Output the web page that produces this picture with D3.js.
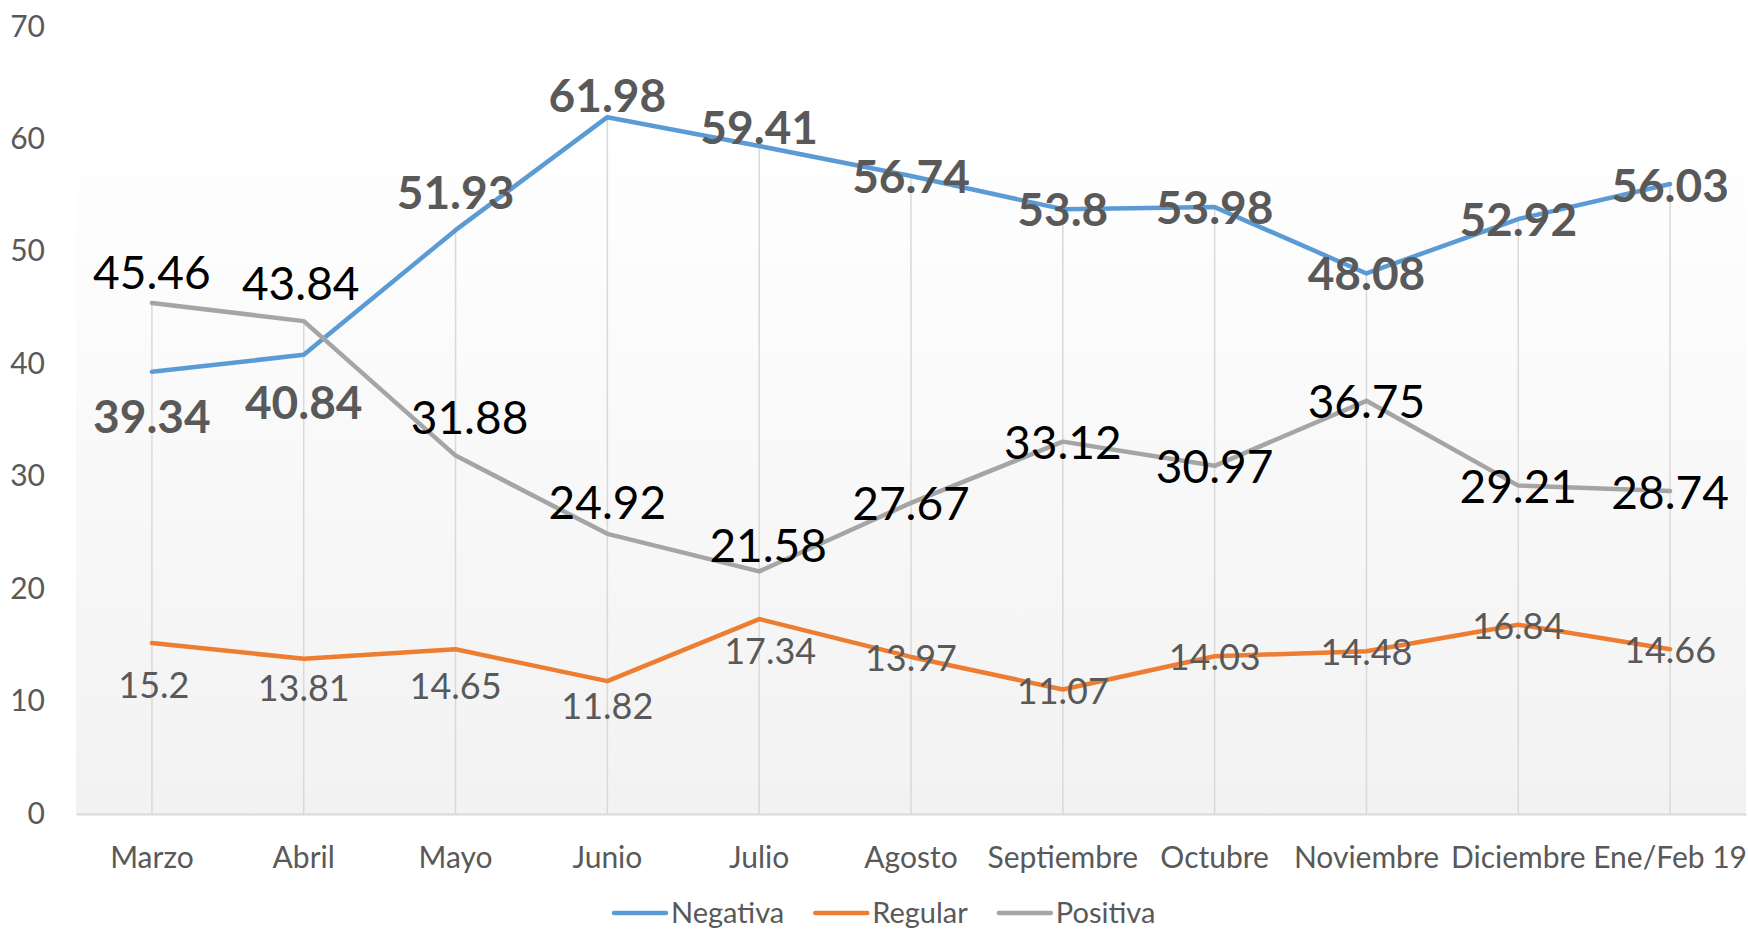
<!DOCTYPE html>
<html>
<head>
<meta charset="utf-8">
<script src="https://d3js.org/d3.v7.min.js"></script>
<style>
	html, body { margin: 0; padding: 0; background: #fff; }
	svg { display: block; font-family: Lato, "Open Sans", sans-serif; }
	.axis text { fill: #595959; font-size: 30px; font-family: Lato, "Open Sans", sans-serif; }
	.axis .domain { stroke: #d9d9d9; stroke-width: 2; }
	.legend text { fill: #595959; font-size: 29px; }
</style>
</head>
<body>
<svg id="chart" width="1748" height="932"></svg>
<script>
var months = ['Marzo', 'Abril', 'Mayo', 'Junio', 'Julio', 'Agosto', 'Septiembre', 'Octubre', 'Noviembre', 'Diciembre', 'Ene/Feb 19'];
var negativa = [39.34, 40.84, 51.93, 61.98, 59.41, 56.74, 53.8, 53.98, 48.08, 52.92, 56.03];
var regular = [15.2, 13.81, 14.65, 11.82, 17.34, 13.97, 11.07, 14.03, 14.48, 16.84, 14.66];
var positiva = [45.46, 43.84, 31.88, 24.92, 21.58, 27.67, 33.12, 30.97, 36.75, 29.21, 28.74];
var yTicks = [0, 10, 20, 30, 40, 50, 60, 70];

// label nudges (px, relative to the point; dy is the text baseline)
var negDy = [61, 64, -21, -5, -2, 17, 17, 17, 17, 17, 18];
var posDy = [-14, -21, -22, -15, -9, 17, 17, 17, 17, 17, 18];
var posDx = [0, -3, 14, 0, 9, 0, 0, 0, 0, 0, 0];
var regDy = [55, 42, 50, 38, 45, 14, 14, 14, 14, 14, 14];
var regDx = [2, 0, 0, 0, 11, 0, 0, 0, 0, 0, 0];

var svg = d3.select('#chart'),
	plot = { left: 76, right: 1746, top: 27, bottom: 814 };

var x = d3.scaleBand()
	.domain(months)
	.range([plot.left, plot.right])
	.padding(0);

var y = d3.scaleLinear()
	.domain([0, 70])
	.range([plot.bottom, plot.top]);

function cx(d, i) { return x(months[i]) + x.bandwidth() / 2; }

// plot background
var grad = svg.append('defs').append('linearGradient')
	.attr('id', 'bg')
	.attr('x1', 0).attr('y1', 0).attr('x2', 0).attr('y2', 1);
grad.append('stop').attr('offset', '0%').attr('stop-color', '#ffffff');
grad.append('stop').attr('offset', '12%').attr('stop-color', '#ffffff');
grad.append('stop').attr('offset', '100%').attr('stop-color', '#f2f2f2');

svg.append('rect')
	.attr('x', plot.left)
	.attr('y', plot.top)
	.attr('width', plot.right - plot.left)
	.attr('height', plot.bottom - plot.top)
	.attr('fill', 'url(#bg)');

// drop lines from the highest point to the axis
svg.append('g')
	.selectAll('line')
	.data(months)
	.enter().append('line')
	.attr('x1', cx).attr('x2', cx)
	.attr('y1', function(d, i) { return y(Math.max(negativa[i], regular[i], positiva[i])); })
	.attr('y2', y(0))
	.attr('stroke', '#d9d9d9')
	.attr('stroke-width', 1.5);

// axes
svg.append('g')
	.attr('class', 'axis')
	.attr('transform', 'translate(0,' + plot.bottom + ')')
	.call(d3.axisBottom(x).tickSize(0).tickSizeOuter(0).tickPadding(33))
	.selectAll('text').attr('dy', '0.71em');

var yAxis = svg.append('g')
	.attr('class', 'axis')
	.attr('transform', 'translate(45,0)')
	.call(d3.axisLeft(y).tickValues(yTicks).tickSize(0).tickPadding(0));
yAxis.select('.domain').remove();
yAxis.selectAll('text').attr('dy', '0.30em');

// series
var series = [
	{ name: 'Negativa', values: negativa, color: '#5b9bd5', dx: null, dy: negDy, fill: '#595959', size: 46, weight: 'bold' },
	{ name: 'Regular', values: regular, color: '#ed7d31', dx: regDx, dy: regDy, fill: '#595959', size: 36, weight: 'normal' },
	{ name: 'Positiva', values: positiva, color: '#a5a5a5', dx: posDx, dy: posDy, fill: '#000000', size: 46, weight: 'normal' }
];

var line = d3.line()
	.x(cx)
	.y(function(d) { return y(d); });

series.forEach(function(s) {
	svg.append('path')
		.datum(s.values)
		.attr('d', line)
		.attr('fill', 'none')
		.attr('stroke', s.color)
		.attr('stroke-width', 4.5)
		.attr('stroke-linejoin', 'round')
		.attr('stroke-linecap', 'round');
});

series.forEach(function(s) {
	svg.append('g')
		.selectAll('text')
		.data(s.values)
		.enter().append('text')
		.attr('x', function(d, i) { return cx(d, i) + (s.dx ? s.dx[i] : 0); })
		.attr('y', function(d, i) { return y(d) + s.dy[i]; })
		.attr('text-anchor', 'middle')
		.attr('fill', s.fill)
		.attr('font-size', s.size)
		.attr('font-weight', s.weight)
		.text(function(d) { return d; });
});

// legend
var legend = svg.append('g').attr('class', 'legend'),
	lx = 614,
	ly = 913;

series.forEach(function(s) {
	legend.append('line')
		.attr('x1', lx).attr('x2', lx + 52)
		.attr('y1', ly).attr('y2', ly)
		.attr('stroke', s.color)
		.attr('stroke-width', 4.5)
		.attr('stroke-linecap', 'round');
	var t = legend.append('text')
		.attr('x', lx + 57)
		.attr('y', ly)
		.attr('dy', '0.36em')
		.text(s.name);
	lx += 57 + t.node().getComputedTextLength() + 31;
});
</script>
</body>
</html>
